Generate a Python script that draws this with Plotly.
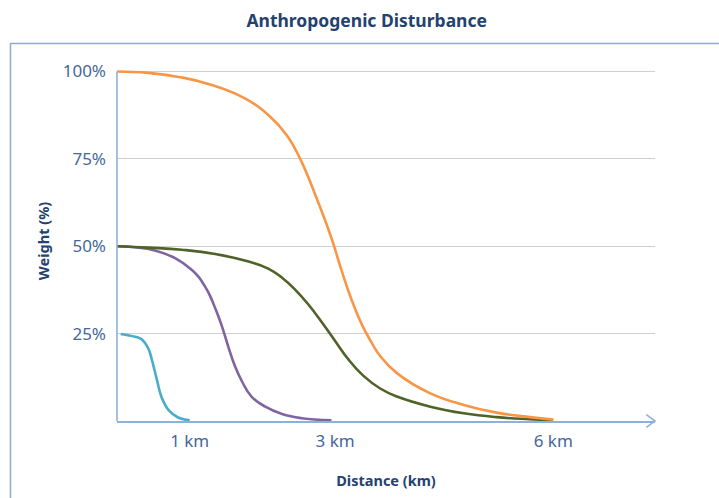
import plotly.graph_objects as go

# distance (km) / weight (%)
orange_km = [0, 0.43, 0.89, 1.28, 1.74, 2.10, 2.33, 2.52, 2.75, 2.95, 3.09, 3.23,
             3.37, 3.50, 3.62, 3.85, 4.31, 4.77, 5.22, 5.68, 6.0]
orange_pct = [100, 99.6, 98.3, 96.3, 92.5, 87.2, 81.9, 75.0, 63.5, 52.3, 43.0, 34.5,
              27.5, 22.5, 18.6, 13.7, 7.9, 4.6, 2.4, 1.1, 0.4]

green_km = [0, 0.43, 0.89, 1.35, 1.81, 2.08, 2.27, 2.45, 2.63, 2.82, 3.0, 3.18, 3.39, 3.62,
            3.85, 4.31, 4.77, 5.22, 5.68, 6.0]
green_pct = [50, 49.6, 49.0, 47.8, 45.6, 43.6, 41.0, 37.6, 33.4, 28.2, 22.9, 17.7, 12.9, 9.3,
             7.0, 4.1, 2.2, 1.1, 0.5, 0.2]

purple_km = [0, 0.25, 0.52, 0.80, 1.03, 1.12, 1.21, 1.28, 1.35, 1.44, 1.53, 1.62, 1.72, 1.85,
             2.04, 2.27, 2.54, 2.95]
purple_pct = [50, 49.7, 48.8, 46.6, 43.2, 41.3, 38.5, 35.8, 32.3, 27.3, 21.3, 15.8, 11.3, 7.0,
              4.1, 2.0, 0.8, 0.2]

cyan_km = [0.05, 0.25, 0.33, 0.39, 0.44, 0.48, 0.55, 0.61, 0.71, 0.84, 1.0]
cyan_pct = [24.9, 24.1, 23.5, 22.2, 20.3, 17.5, 11.7, 7.0, 3.1, 1.0, 0.2]

y_ticks = [25, 50, 75, 100]
y_labels = ["25%", "50%", "75%", "100%"]
x_ticks = [1, 3, 6]
x_labels = ["1 km", "3 km", "6 km"]

FONT = "Noto Sans"
TEXT = "#46679A"
NAVY = "#24426F"
AXIS = "#8FB0D8"

fig = go.Figure()
for xs, ys, col in [(cyan_km, cyan_pct, "#4BACC6"),
                    (purple_km, purple_pct, "#8064A2"),
                    (green_km, green_pct, "#4F6228"),
                    (orange_km, orange_pct, "#F79646")]:
    fig.add_trace(go.Scatter(x=xs, y=ys, mode="lines",
                             line=dict(color=col, width=2.6, shape="spline", smoothing=1.3),
                             showlegend=False, hoverinfo="skip"))

fig.update_layout(
    width=719, height=498,
    margin=dict(l=117, r=64, t=61, b=77),
    paper_bgcolor="white", plot_bgcolor="white",
    font=dict(family=FONT, color=TEXT),
    title=dict(text="<b>Anthropogenic Disturbance</b>", x=0.51, xanchor="center",
               y=0.958, yanchor="middle", font=dict(size=17.5, color=NAVY, family=FONT)),
    xaxis=dict(range=[0, 7.4], tickvals=x_ticks, ticktext=x_labels, showgrid=False,
               zeroline=False, showline=True, linecolor=AXIS, linewidth=1.6,
               ticks="", ticklabelstandoff=4, tickfont=dict(size=17, color=TEXT),
               title=dict(text="<b>Distance (km)</b>", standoff=25,
                          font=dict(size=14.5, color=NAVY))),
    yaxis=dict(range=[0, 103], tickvals=y_ticks, ticktext=y_labels, showgrid=True,
               gridcolor="#D0D0D0", gridwidth=1.2, zeroline=False, showline=False,
               ticks="", ticklabelstandoff=10, tickfont=dict(size=17, color=TEXT),
               title=dict(text="<b>Weight (%)</b>", standoff=9,
                          font=dict(size=14.5, color=NAVY))),
    shapes=[
        # outer frame
        dict(type="rect", xref="paper", yref="paper", x0=-0.198, x1=1.3, y0=-0.4, y1=1.0486,
             line=dict(color="#92AACB", width=1.5), layer="below"),
        # y axis line up to 100 %
        dict(type="line", xref="paper", yref="y", x0=0, x1=0, y0=0, y1=100,
             line=dict(color=AXIS, width=1.6)),
        # arrow head on x axis
        dict(type="path", xref="paper", yref="paper",
             path="M 0.984,0.018 L 1,0 L 0.984,-0.018",
             line=dict(color=AXIS, width=1.6)),
    ],
)

fig.write_html("out.html", config={"displayModeBar": False},
               post_script="document.body.style.margin='0';")
